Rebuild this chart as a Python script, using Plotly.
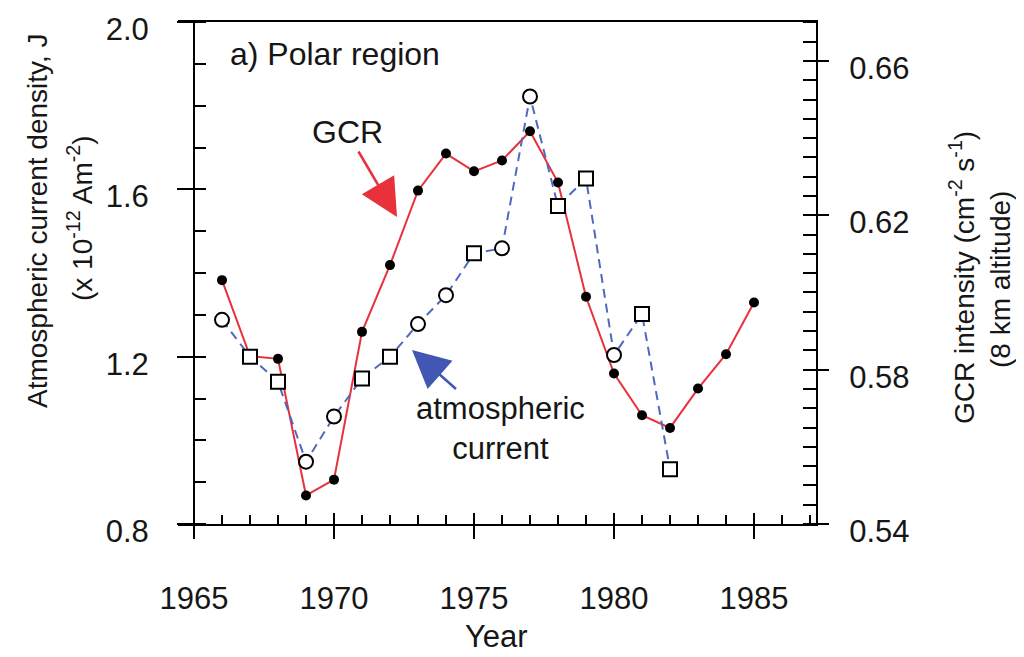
import plotly.graph_objects as go

# ---------------- data ----------------
years_gcr = list(range(1966, 1986))
gcr_intensity = [0.6032, 0.5835, 0.5828, 0.5474, 0.5515, 0.5898, 0.6071, 0.6264,
                 0.6360, 0.6314, 0.6342, 0.6418, 0.6285, 0.5989, 0.5790, 0.5682,
                 0.5649, 0.5751, 0.5840, 0.5974]

years_current = list(range(1966, 1983))
current_density = [1.288, 1.200, 1.140, 0.949, 1.057, 1.148, 1.200, 1.278, 1.347,
                   1.447, 1.459, 1.822, 1.560, 1.626, 1.204, 1.302, 0.931]

year_ticks = [1965, 1970, 1975, 1980, 1985]
year_labels = ["1965", "1970", "1975", "1980", "1985"]
left_ticks = [0.8, 1.2, 1.6, 2.0]
left_labels = ["0.8", "1.2", "1.6", "2.0"]
right_ticks = [0.54, 0.58, 0.62, 0.66]
right_labels = ["0.54", "0.58", "0.62", "0.66"]

# ---------------- style ----------------
current_symbols = ["circle", "square", "square", "circle", "circle", "square", "square",
                   "circle", "circle", "square", "circle", "circle", "square", "square",
                   "circle", "square", "square"]

FONT = "Liberation Sans, Arial, Helvetica, sans-serif"
TXT = "#161616"
BODY = 8                                   # default page body margin in the browser
W, H = 1024 - BODY, 657 - BODY
PL, PR, PT, PB = 178, 816, 22, 524         # plot area in screen pixels
X_RANGE = [1964.4286, 1987.214]
LEFT_RANGE = [0.8, 2.00001]
RIGHT_RANGE = [0.54, 0.6701]
RED = "#e8313b"
BLUE_LINE = "#5068c0"
BLUE_ARROW = "#4256b4"


def px_x(p):
    return (p - PL) / (PR - PL)


def px_y(p):
    return (PB - p) / (PB - PT)


fig = go.Figure()

fig.add_trace(go.Scatter(
    x=years_gcr, y=gcr_intensity, xaxis="x", yaxis="y",
    mode="lines+markers", showlegend=False, hoverinfo="skip",
    line=dict(color=RED, width=2),
    marker=dict(color="black", size=10, symbol="circle"),
))
fig.add_trace(go.Scatter(
    x=years_current, y=current_density, xaxis="x", yaxis="y2",
    mode="lines+markers", showlegend=False, hoverinfo="skip",
    line=dict(color=BLUE_LINE, width=2, dash="9px,6px"),
    marker=dict(symbol=current_symbols, size=14, color="white",
                line=dict(color="black", width=2)),
))
# empty traces so the overlay (tick-only) axes get drawn
fig.add_trace(go.Scatter(x=[], y=[], xaxis="x2", yaxis="y", showlegend=False, hoverinfo="skip"))
fig.add_trace(go.Scatter(x=[], y=[], xaxis="x", yaxis="y3", showlegend=False, hoverinfo="skip"))

tickfont = dict(family=FONT, size=31, color=TXT)

fig.update_layout(
    width=W, height=H,
    margin=dict(l=PL - BODY, r=W - (PR - BODY), t=PT - BODY, b=H - (PB - BODY), pad=0,
                autoexpand=False),
    paper_bgcolor="white", plot_bgcolor="white",
    font=dict(family=FONT, color=TXT),
    showlegend=False,
    xaxis=dict(
        range=X_RANGE, domain=[0, 1], anchor="y", automargin=False,
        showline=True, linecolor="black", linewidth=2, mirror=True,
        ticks="outside", ticklen=13, tickwidth=2, tickcolor="black",
        tickvals=year_ticks, ticktext=year_labels, tickfont=tickfont,
        ticklabelstandoff=33, ticklabeloverflow="allow",
        minor=dict(tickmode="linear", tick0=1965, dtick=1, ticks="inside",
                   ticklen=9, tickwidth=2, tickcolor="black", showgrid=False),
        showgrid=False, zeroline=False,
    ),
    xaxis2=dict(
        range=X_RANGE, overlaying="x", anchor="y", side="bottom", automargin=False,
        showline=False, ticks="inside", ticklen=11, tickwidth=2, tickcolor="black",
        tickvals=year_ticks, showticklabels=False, showgrid=False, zeroline=False,
    ),
    yaxis=dict(
        range=RIGHT_RANGE, side="right", anchor="x", automargin=False,
        showline=True, linecolor="black", linewidth=2,
        ticks="outside", ticklen=11, tickwidth=2, tickcolor="black",
        tickvals=right_ticks, ticktext=right_labels, tickfont=tickfont,
        ticklabelstandoff=14, ticklabelshift=7, ticklabeloverflow="allow",
        minor=dict(tickmode="linear", tick0=0.54, dtick=0.005, ticks="inside",
                   ticklen=13, tickwidth=2, tickcolor="black", showgrid=False),
        showgrid=False, zeroline=False,
    ),
    yaxis3=dict(
        range=RIGHT_RANGE, overlaying="y", side="right", anchor="x", automargin=False,
        showline=False, ticks="inside", ticklen=13, tickwidth=2, tickcolor="black",
        tickvals=right_ticks, showticklabels=False, showgrid=False, zeroline=False,
    ),
    yaxis2=dict(
        range=LEFT_RANGE, overlaying="y", side="left", anchor="free", automargin=False,
        position=px_x(194),
        showline=True, linecolor="black", linewidth=2,
        ticks="outside", ticklen=16, tickwidth=2, tickcolor="black",
        tickvals=left_ticks, ticktext=left_labels, tickfont=tickfont,
        ticklabelstandoff=22, ticklabelshift=7, ticklabeloverflow="allow",
        minor=dict(tickmode="linear", tick0=0.8, dtick=0.1, ticks="inside",
                   ticklen=11, tickwidth=2, tickcolor="black", showgrid=False),
        showgrid=False, zeroline=False,
    ),
)

ann = []
# panel label
ann.append(dict(text="a) Polar region", xref="paper", yref="paper",
                x=px_x(228), y=px_y(54), xanchor="left", yanchor="middle",
                showarrow=False, font=dict(family=FONT, size=32, color=TXT)))
# GCR arrow label
ann.append(dict(text="GCR", xref="x", yref="y2",
                x=1965 + (397 - 194) / 28.0, y=0.8 + (524 - 217) / 418.33,
                ax=-50, ay=-85, axref="pixel", ayref="pixel",
                showarrow=True, arrowhead=2, arrowsize=3, arrowwidth=2.5,
                arrowcolor=RED, standoff=0,
                font=dict(family=FONT, size=32, color=TXT)))
# atmospheric current arrow label
ann.append(dict(text="atmospheric<br>current", xref="x", yref="y2",
                x=1965 + (412 - 194) / 28.0, y=0.8 + (524 - 350) / 418.33,
                ax=88, ay=78, axref="pixel", ayref="pixel",
                showarrow=True, arrowhead=2, arrowsize=3, arrowwidth=2.5,
                arrowcolor=BLUE_ARROW, standoff=0, align="center",
                font=dict(family=FONT, size=31, color=TXT)))
# axis titles
ann.append(dict(text="Atmospheric current density, J", xref="paper", yref="paper",
                x=px_x(37), y=px_y(221), textangle=-90, showarrow=False,
                xanchor="center", yanchor="middle",
                font=dict(family=FONT, size=28, color=TXT)))
ann.append(dict(text="(x 10<sup>-12</sup> Am<sup>-2</sup>)", xref="paper", yref="paper",
                x=px_x(80), y=px_y(218), textangle=-90, showarrow=False,
                xanchor="center", yanchor="middle",
                font=dict(family=FONT, size=28, color=TXT)))
ann.append(dict(text="GCR intensity (cm<sup>-2</sup> s<sup>-1</sup>)", xref="paper", yref="paper",
                x=px_x(962), y=px_y(278), textangle=-90, showarrow=False,
                xanchor="center", yanchor="middle",
                font=dict(family=FONT, size=28, color=TXT)))
ann.append(dict(text="(8 km altitude)", xref="paper", yref="paper",
                x=px_x(1000), y=px_y(280), textangle=-90, showarrow=False,
                xanchor="center", yanchor="middle",
                font=dict(family=FONT, size=28, color=TXT)))
ann.append(dict(text="Year", xref="paper", yref="paper",
                x=px_x(496), y=px_y(636), showarrow=False,
                xanchor="center", yanchor="middle",
                font=dict(family=FONT, size=31, color=TXT)))

fig.update_layout(annotations=ann)

fig.write_html("out.html")
